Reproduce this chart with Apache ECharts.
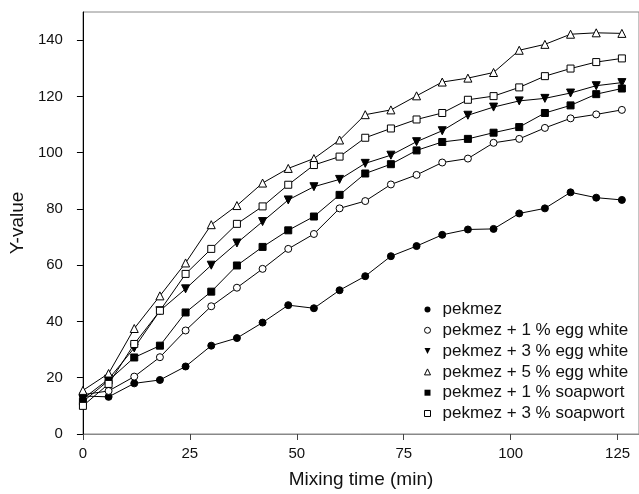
<!DOCTYPE html>
<html>
<head>
<meta charset="utf-8">
<script src="https://cdn.jsdelivr.net/npm/echarts@6/dist/echarts.min.js"></script>
<style>
    html, body { margin: 0; padding: 0; background: #fff; }
    #mainChart { width: 639px; height: 494px; }
</style>
</head>
<body>
<div id="mainChart"></div>
<script>
// mixing time (min)
const mixingTime = [0, 6, 12, 18, 24, 30, 36, 42, 48, 54, 60, 66, 72, 78, 84, 90, 96, 102, 108, 114, 120, 126];

// series values
const pekmez = [13.5, 13.2, 18, 19.2, 24, 31.4, 34.1, 39.6, 45.8, 44.7, 51.1, 56.1, 63.2, 66.8, 70.8, 72.7, 72.9, 78.4, 80.2, 85.9, 84, 83.2];
const eggWhite1 = [14, 15.3, 20.4, 27.3, 36.8, 45.4, 52, 58.7, 65.8, 71.1, 80.2, 82.8, 88.7, 92.1, 96.5, 97.9, 103.5, 104.9, 108.8, 112.2, 113.6, 115.2];
const eggWhite3 = [12.5, 19.5, 30.6, 43.8, 51.6, 60, 67.9, 75.5, 83.2, 87.9, 90.5, 96.2, 99.1, 103.9, 107.8, 113.3, 116.2, 118.4, 119.3, 121.2, 123.8, 124.9];
const eggWhite5 = [15.5, 21.5, 37.5, 49.1, 60.8, 74.4, 81.2, 89.2, 94.4, 97.9, 104.5, 113.5, 115.2, 120.2, 125.1, 126.5, 128.5, 136.4, 138.5, 142.1, 142.6, 142.4];
const soapwort1 = [11.5, 19, 27.2, 31.4, 43.2, 50.6, 59.9, 66.5, 72.4, 77.3, 85, 92.6, 95.9, 100.8, 103.8, 104.9, 107.1, 109.1, 114.1, 116.8, 120.8, 122.8];
const soapwort3 = [10, 17.8, 32, 43.8, 56.9, 65.8, 74.7, 80.9, 88.6, 95.6, 98.6, 105.3, 108.6, 111.8, 114.1, 118.8, 120.1, 123.2, 127.2, 129.9, 132.2, 133.5];

// tick labels
const xTicks = [0, 25, 50, 75, 100, 125];
const yTicks = [0, 20, 40, 60, 80, 100, 120, 140];

const FONT = 'Liberation Sans';
const downTriangle = 'path://M0,0 L10,0 L5,10 Z';

// name, values, symbol, size, filled
const seriesDefs = [
    ['pekmez', pekmez, 'circle', 7, true],
    ['pekmez + 1 % egg white', eggWhite1, 'circle', 7, false],
    ['pekmez + 3 % egg white', eggWhite3, downTriangle, 8, true],
    ['pekmez + 5 % egg white', eggWhite5, 'triangle', 8, false],
    ['pekmez + 1 % soapwort', soapwort1, 'rect', 7, true],
    ['pekmez + 3 % soapwort', soapwort3, 'rect', 7, false]
];

function makeSeries(def) {
    return {
        name: def[0],
        type: 'line',
        data: mixingTime.map((t, i) => [t, def[1][i]]),
        symbol: def[2],
        symbolSize: def[3],
        showAllSymbol: true,
        animation: false,
        lineStyle: { color: '#000', width: 1 },
        itemStyle: {
            color: def[4] ? '#000' : '#fff',
            borderColor: '#000',
            borderWidth: 1
        }
    };
}

function makeLegendItem(def) {
    return {
        name: def[0],
        icon: def[2],
        itemStyle: {
            color: def[4] ? '#000' : '#fff',
            borderColor: '#000',
            borderWidth: def[4] ? 0 : 1
        }
    };
}

function initMainChart() {
    const chart = echarts.init(document.getElementById('mainChart'));
    chart.setOption({
        animation: false,
        grid: {
            left: 81,
            top: 12,
            right: -3.6,
            bottom: 57,
            show: true,
            borderColor: '#888',
            borderWidth: 1
        },
        legend: {
            orient: 'vertical',
            left: 419,
            top: 296,
            itemWidth: 6,
            itemHeight: 6,
            itemGap: 3.8,
            selectedMode: false,
            textStyle: {
                fontFamily: FONT,
                fontSize: 17,
                color: '#111',
                lineHeight: 17,
                padding: [0, 0, 0, 7]
            },
            data: seriesDefs.map(makeLegendItem)
        },
        xAxis: {
            type: 'value',
            min: 0,
            max: 130,
            name: 'Mixing time (min)',
            nameLocation: 'middle',
            nameGap: 36,
            nameTextStyle: { fontFamily: FONT, fontSize: 19, color: '#111' },
            splitLine: { show: false },
            axisLine: { lineStyle: { color: '#888', width: 1 } },
            axisTick: { customValues: xTicks, length: 6, lineStyle: { color: '#444' } },
            axisLabel: { customValues: xTicks, margin: 12, fontFamily: FONT, fontSize: 15, color: '#111' }
        },
        yAxis: {
            type: 'value',
            min: 0,
            max: 150,
            name: 'Y-value',
            nameLocation: 'middle',
            nameGap: 52,
            nameTextStyle: { fontFamily: FONT, fontSize: 19, color: '#111' },
            splitLine: { show: false },
            axisLine: { lineStyle: { color: '#000', width: 1 } },
            axisTick: { customValues: yTicks, length: 6, lineStyle: { color: '#000' } },
            axisLabel: { customValues: yTicks, margin: 20, fontFamily: FONT, fontSize: 15, color: '#111' }
        },
        series: seriesDefs.map(makeSeries)
    });
}

document.addEventListener('DOMContentLoaded', () => {
    initMainChart();
});
</script>
</body>
</html>
